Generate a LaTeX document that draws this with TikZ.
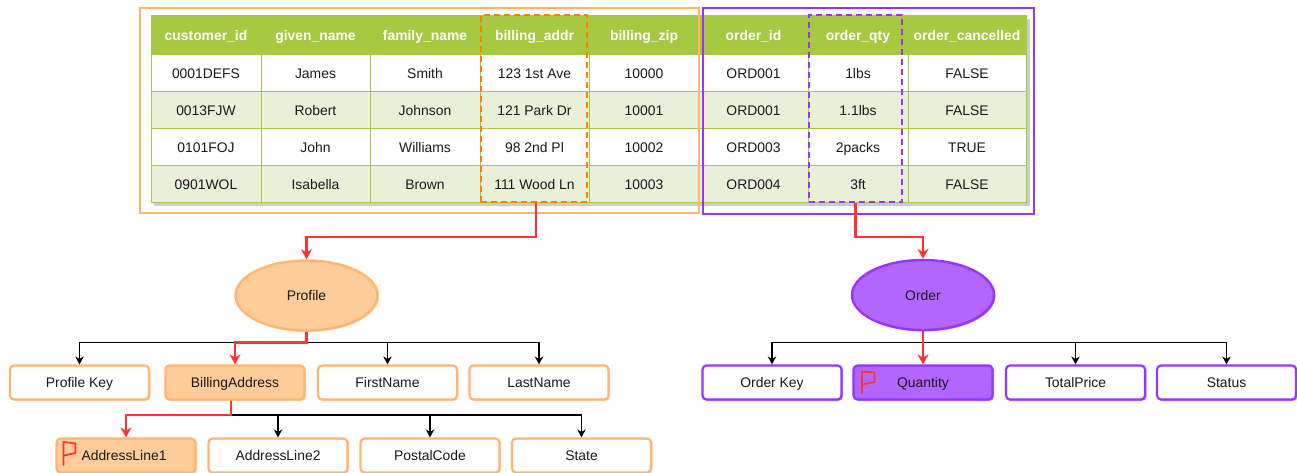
\documentclass[tikz,border=0pt]{standalone}
\usepackage{fontspec}
\setmainfont{Liberation Sans}
\usetikzlibrary{arrows.meta,shapes.geometric}
\definecolor{orangeline}{HTML}{FFB570}
\definecolor{orangefill}{HTML}{FFCC99}
\definecolor{orangedash}{HTML}{FF8000}
\definecolor{purpleline}{HTML}{9933FF}
\definecolor{purplefill}{HTML}{B266FF}
\definecolor{tablegreen}{HTML}{A7C942}
\definecolor{rowgreen}{HTML}{EAF0D8}
\definecolor{linkred}{HTML}{FF3333}
\definecolor{inkblack}{HTML}{1A1A1A}
\tikzset{
  basefont/.style={font=\fontsize{13.9}{16}\selectfont,text height=11.5pt,text depth=1pt},
  cellbase/.style={draw=tablegreen,line width=1pt,inner sep=0pt,basefont,text=inkblack},
  headcell/.style={cellbase,fill=tablegreen,text=white,font=\fontsize{13.9}{16}\selectfont\bfseries},
  whitecell/.style={cellbase,fill=white},
  greencell/.style={cellbase,fill=rowgreen},
  frame/.style={draw,line width=2.2pt,inner sep=0pt,fill=none},
  dashframe/.style={draw,line width=2.7pt,inner sep=0pt,fill=none,dash pattern=on 6pt off 4pt},
  sketchy/.style={preaction={draw=#1,draw opacity=0.55,line width=1.6pt,transform canvas={xshift=0.8pt,yshift=-0.7pt}}},
  boxbase/.style={rectangle,rounded corners=4pt,line width=2.2pt,minimum width=139pt,minimum height=34pt,inner sep=0pt,basefont,text=inkblack},
  obox/.style={boxbase,draw=orangeline,fill=white,sketchy=orangeline},
  oboxfill/.style={boxbase,draw=orangeline,fill=orangefill,sketchy=orangeline},
  pbox/.style={boxbase,draw=purpleline,fill=white,sketchy=purpleline},
  pboxfill/.style={boxbase,draw=purpleline,fill=purplefill,sketchy=purpleline},
  blob/.style={ellipse,line width=2.4pt,inner sep=0pt,minimum width=142pt,minimum height=70pt,basefont,text=inkblack},
  blacklink/.style={draw=black,line width=1.1pt,-{Stealth[length=8pt,width=8.5pt]}},
  redlink/.style={draw=linkred,line width=2.2pt,-{Stealth[length=10pt,width=11pt]}},
  flagline/.style={draw=linkred,line width=1.8pt,line join=round,line cap=round}
}
\begin{document}
\begin{tikzpicture}[x=1pt,y=-1pt]
\useasboundingbox (0,0) rectangle (1297,473);
% table shadow
\fill[black!20] (154,19) rectangle (1029.5,205.5);
% table cells
\def\colL{{151,261,370,480,589,699,808,908}}
\def\colR{{261,370,480,589,699,808,908,1026}}
\foreach \r/\ya/\yb/\sty/\row in {
  0/16/55/headcell/{customer\_id,given\_name,family\_name,billing\_addr,billing\_zip,order\_id,order\_qty,order\_cancelled},
  1/55/92/whitecell/{0001DEFS,James,Smith,123 1st Ave,10000,ORD001,1lbs,FALSE},
  2/92/128.5/greencell/{0013FJW,Robert,Johnson,121 Park Dr,10001,ORD001,1.1lbs,FALSE},
  3/128.5/166/whitecell/{0101FOJ,John,Williams,98 2nd Pl,10002,ORD003,2packs,TRUE},
  4/166/202/greencell/{0901WOL,Isabella,Brown,111 Wood Ln,10003,ORD004,3ft,FALSE}}{
  \foreach \t [count=\i from 0] in \row {
    \pgfmathsetmacro{\xa}{\colL[\i]}
    \pgfmathsetmacro{\xb}{\colR[\i]}
    \pgfmathsetmacro{\cellw}{\xb-\xa}
    \pgfmathsetmacro{\cellh}{\yb-\ya}
    \node[\sty,minimum width=\cellw pt,minimum height=\cellh pt] (c\r-\i) at ({(\xa+\xb)/2},{(\ya+\yb)/2}) {\t};
  }
}
% frames
\node[frame,draw=orangeline,minimum width=559pt,minimum height=205.5pt] (oframe) at (419.5,110.5) {};
\node[frame,draw=purpleline,minimum width=331pt,minimum height=206pt] (pframe) at (868.5,111) {};
\node[dashframe,draw=orangedash,minimum width=106pt,minimum height=187pt] (odash) at (534,108.5) {};
\node[dashframe,draw=purpleline,minimum width=93pt,minimum height=187pt] (pdash) at (855.5,108.5) {};
% ellipses
\node[blob,draw=orangeline,fill=orangefill,sketchy=orangeline] (profile) at (306.5,295.5) {Profile};
\node[blob,draw=purpleline,fill=purplefill,sketchy=purpleline] (order) at (923,295) {Order};
% boxes
\node[obox] (pkey) at (79.5,382.5) {Profile Key};
\node[oboxfill] (bill) at (235,382.5) {BillingAddress};
\node[obox] (first) at (387.5,382.5) {FirstName};
\node[obox] (last) at (539,382.5) {LastName};
\node[oboxfill] (addr1) at (126,455.5) {\hspace*{-4pt}AddressLine1};
\node[obox] (addr2) at (278,455.5) {AddressLine2};
\node[obox] (postal) at (430,455.5) {PostalCode};
\node[obox] (state) at (581.5,455.5) {State};
\node[pbox] (okey) at (772,382.5) {Order Key};
\node[pboxfill] (qty) at (923,382.5) {Quantity};
\node[pbox] (total) at (1075.5,382.5) {TotalPrice};
\node[pbox] (status) at (1226.5,382.5) {Status};
% black connectors
\coordinate (pbus) at (306.5,342.5);
\coordinate (bbus) at (231,415);
\coordinate (obus) at (923,342.5);
\foreach \tgt in {pkey,first,last}
  \draw[blacklink] (profile.south) -- (pbus) -| (\tgt.north);
\foreach \tgt in {addr2,postal,state}
  \draw[blacklink] (bill.south -| bbus) -- (bbus) -| (\tgt.north);
\foreach \tgt in {okey,total,status}
  \draw[blacklink] (order.south) -- (obus) -| (\tgt.north);
% red connectors
\coordinate (ored) at (306.5,237);
\coordinate (pred) at (923,237);
\draw[redlink] ([xshift=2pt]odash.south) |- (ored) -- (profile.north);
\draw[redlink] (pdash.south) |- (pred) -- (order.north);
\draw[redlink] (profile.south) -- (pbus) -| (bill.north);
\draw[redlink] (bill.south -| bbus) -- (bbus) -| (addr1.north);
\draw[redlink] (order.south) -- (qty.north);
% flags
\draw[flagline] (63.5,465) -- (63.5,442) -- (75.5,443.5) -- (75.5,453) -- (64,455.5);
\draw[flagline] (862,393) -- (862,371.5) -- (874.5,372.5) -- (874.5,382) -- (862.5,384.5);
\end{tikzpicture}
\end{document}
